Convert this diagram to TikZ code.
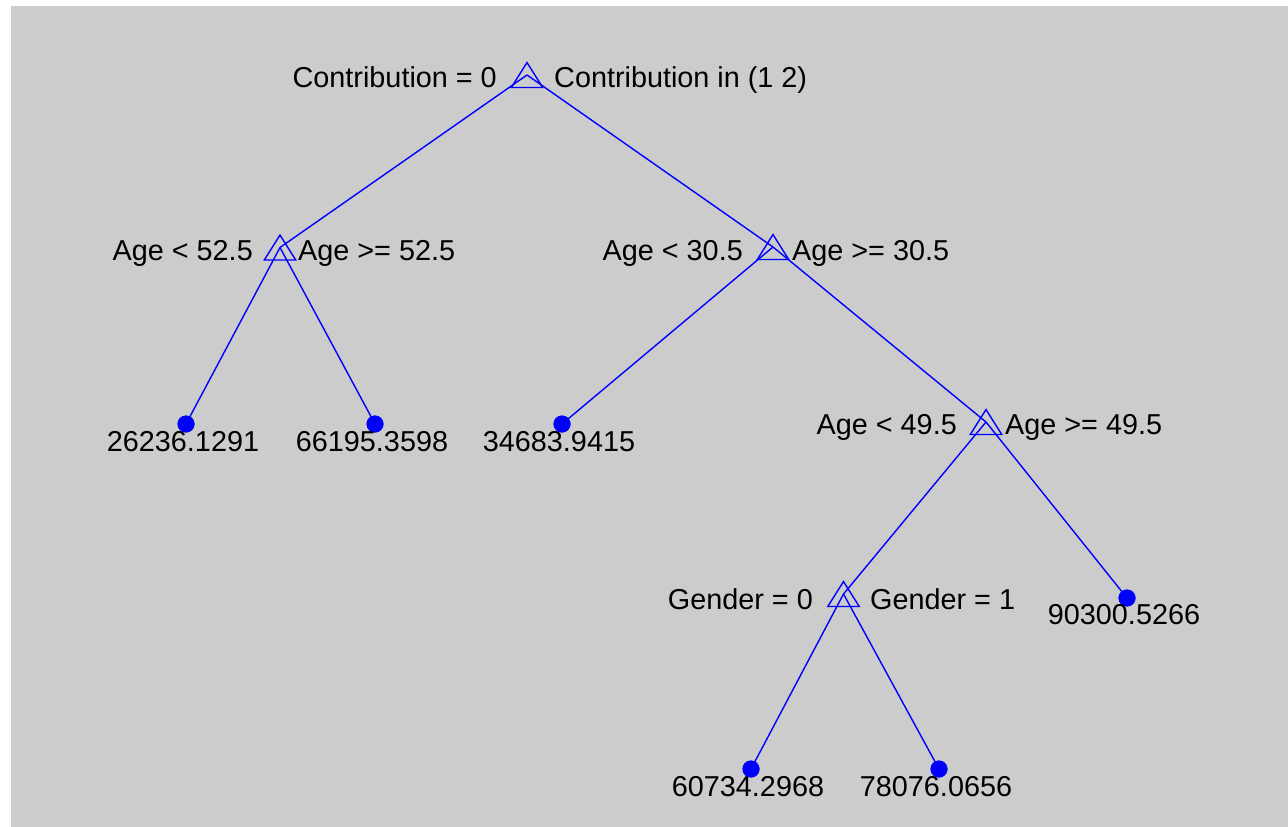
\documentclass[tikz,border=0pt]{standalone}
\usepackage{fontspec}
\setmainfont{Liberation Sans}
\begin{document}
\begin{tikzpicture}[x=1pt,y=-1pt,
  split/.style={inner sep=0pt,minimum width=31pt,minimum height=24.5pt,draw=none},
  leaf/.style={circle,fill=blue,inner sep=0pt,minimum size=17pt},
  edge/.style={draw=blue,line width=1.4pt},
  tri/.style={draw=blue,line width=1.4pt,line join=miter},
  lbl/.style={inner sep=0pt,text=black,font=\fontsize{28.8}{34}\selectfont}]
\useasboundingbox (0,0) rectangle (1288,827);
\fill[white] (0,0) rectangle (1288,827);
\fill[fill={rgb,255:red,204;green,204;blue,204}] (11,6) rectangle (1288,827);
% split nodes
\node[split] (r) at (527,75) {};
\node[split] (a) at (280,247.5) {};
\node[split] (b) at (773,247) {};
\node[split] (c) at (986,422) {};
\node[split] (d) at (843.5,594) {};
% leaves
\node[leaf] (l1) at (186,424) {};
\node[leaf] (l2) at (375,424) {};
\node[leaf] (l3) at (562,424) {};
\node[leaf] (l4) at (751,769) {};
\node[leaf] (l5) at (939,769) {};
\node[leaf] (l6) at (1127,598) {};
% edges
\draw[edge] (r.center) -- (a.center);
\draw[edge] (r.center) -- (b.center);
\draw[edge] (a.center) -- (l1.center);
\draw[edge] (a.center) -- (l2.center);
\draw[edge] (b.center) -- (l3.center);
\draw[edge] (b.center) -- (c.center);
\draw[edge] (c.center) -- (d.center);
\draw[edge] (c.center) -- (l6.center);
\draw[edge] (d.center) -- (l4.center);
\draw[edge] (d.center) -- (l5.center);
% triangle markers
\foreach \n in {r,a,b,c,d}
  \draw[tri] (\n.north) -- (\n.south east) -- (\n.south west) -- cycle;
% redraw leaf dots on top
\foreach \n in {l1,l2,l3,l4,l5,l6}
  \fill[blue] (\n.center) circle (8.5pt);
% split labels
\node[lbl,anchor=base east] (rl) at (497,87) {Contribution = 0};
\node[lbl,anchor=base west] (rr) at (554,87) {Contribution in (1 2)};
\node[lbl,anchor=base east] (al) at (253,260) {Age < 52.5};
\node[lbl,anchor=base west] (ar) at (298,260) {Age >= 52.5};
\node[lbl,anchor=base east] (bl) at (743,260) {Age < 30.5};
\node[lbl,anchor=base west] (br) at (792,260) {Age >= 30.5};
\node[lbl,anchor=base east] (cl) at (957,434) {Age < 49.5};
\node[lbl,anchor=base west] (cr) at (1005,434) {Age >= 49.5};
\node[lbl,anchor=base east] (dl) at (813,609) {Gender = 0};
\node[lbl,anchor=base west] (dr) at (870,609) {Gender = 1};
% leaf labels
\node[lbl,anchor=base] (t1) at (183,451) {26236.1291};
\node[lbl,anchor=base] (t2) at (372,451) {66195.3598};
\node[lbl,anchor=base] (t3) at (559,451) {34683.9415};
\node[lbl,anchor=base] (t4) at (748,796) {60734.2968};
\node[lbl,anchor=base] (t5) at (936,796) {78076.0656};
\node[lbl,anchor=base] (t6) at (1124,624) {90300.5266};
\end{tikzpicture}
\end{document}
